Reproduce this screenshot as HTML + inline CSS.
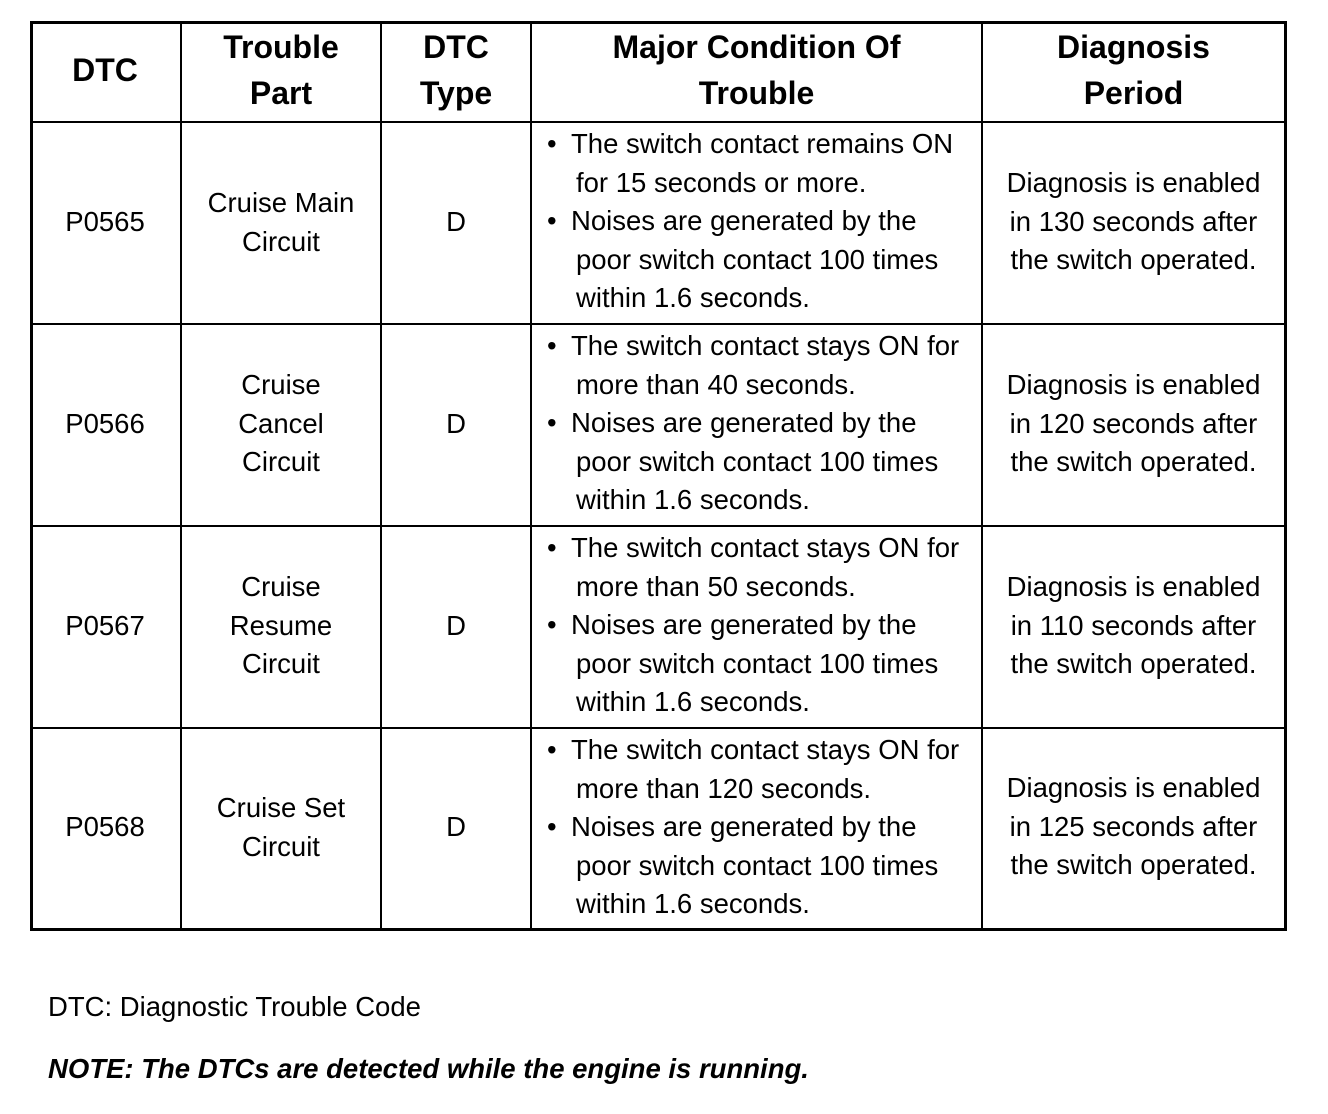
<!DOCTYPE html>
<html><head><meta charset="utf-8"><style>
body{margin:0;width:1328px;height:1114px;background:#fff;position:relative;font-family:"Liberation Sans",Arial,sans-serif;color:#000;overflow:hidden}
.l{position:absolute;background:#000}
.t{position:absolute;font-size:27.5px;line-height:38.6px;text-align:center;white-space:nowrap}
.h{position:absolute;font-size:32px;font-weight:bold;line-height:46px;text-align:center;white-space:nowrap}
.c{position:absolute;font-size:27.5px;line-height:38.6px;left:576px;width:420px;white-space:nowrap}
.c div{position:relative}
.c b{position:absolute;font-weight:normal;left:-24px}
.c .f{margin-left:-5px}
</style></head><body>
<div class="l" style="left:30px;top:21px;width:1257px;height:3px"></div>
<div class="l" style="left:30px;top:928px;width:1257px;height:3px"></div>
<div class="l" style="left:30px;top:21px;width:3px;height:910px"></div>
<div class="l" style="left:1284px;top:21px;width:3px;height:910px"></div>
<div class="l" style="left:180px;top:21px;width:2px;height:910px"></div>
<div class="l" style="left:380px;top:21px;width:2px;height:910px"></div>
<div class="l" style="left:530px;top:21px;width:2px;height:910px"></div>
<div class="l" style="left:981px;top:21px;width:2px;height:910px"></div>
<div class="l" style="left:30px;top:121px;width:1257px;height:2px"></div>
<div class="l" style="left:30px;top:323px;width:1257px;height:2px"></div>
<div class="l" style="left:30px;top:525px;width:1257px;height:2px"></div>
<div class="l" style="left:30px;top:727px;width:1257px;height:2px"></div>

<div class="h" style="left:30px;width:150px;top:47px">DTC</div>
<div class="h" style="left:182px;width:198px;top:24px">Trouble<br>Part</div>
<div class="h" style="left:382px;width:148px;top:24px">DTC<br>Type</div>
<div class="h" style="left:532px;width:449px;top:24px">Major Condition Of<br>Trouble</div>
<div class="h" style="left:983px;width:301px;top:24px">Diagnosis<br>Period</div>

<div class="t" style="left:30px;width:150px;top:203px">P0565</div>
<div class="t" style="left:182px;width:198px;top:184px">Cruise Main<br>Circuit</div>
<div class="t" style="left:382px;width:148px;top:203px">D</div>
<div class="t" style="left:983px;width:301px;top:164px">Diagnosis is enabled<br>in 130 seconds after<br>the switch operated.</div>

<div class="t" style="left:30px;width:150px;top:405px">P0566</div>
<div class="t" style="left:182px;width:198px;top:366px">Cruise<br>Cancel<br>Circuit</div>
<div class="t" style="left:382px;width:148px;top:405px">D</div>
<div class="t" style="left:983px;width:301px;top:366px">Diagnosis is enabled<br>in 120 seconds after<br>the switch operated.</div>

<div class="t" style="left:30px;width:150px;top:607px">P0567</div>
<div class="t" style="left:182px;width:198px;top:568px">Cruise<br>Resume<br>Circuit</div>
<div class="t" style="left:382px;width:148px;top:607px">D</div>
<div class="t" style="left:983px;width:301px;top:568px">Diagnosis is enabled<br>in 110 seconds after<br>the switch operated.</div>

<div class="t" style="left:30px;width:150px;top:808px">P0568</div>
<div class="t" style="left:182px;width:198px;top:789px">Cruise Set<br>Circuit</div>
<div class="t" style="left:382px;width:148px;top:808px">D</div>
<div class="t" style="left:983px;width:301px;top:769px">Diagnosis is enabled<br>in 125 seconds after<br>the switch operated.</div>

<div class="c" style="top:125px">
<div class="f"><b>•</b>The switch contact remains ON</div>
<div>for 15 seconds or more.</div>
<div class="f"><b>•</b>Noises are generated by the</div>
<div>poor switch contact 100 times</div>
<div>within 1.6 seconds.</div></div>
<div class="c" style="top:327px">
<div class="f"><b>•</b>The switch contact stays ON for</div>
<div>more than 40 seconds.</div>
<div class="f"><b>•</b>Noises are generated by the</div>
<div>poor switch contact 100 times</div>
<div>within 1.6 seconds.</div></div>
<div class="c" style="top:529px">
<div class="f"><b>•</b>The switch contact stays ON for</div>
<div>more than 50 seconds.</div>
<div class="f"><b>•</b>Noises are generated by the</div>
<div>poor switch contact 100 times</div>
<div>within 1.6 seconds.</div></div>
<div class="c" style="top:731px">
<div class="f"><b>•</b>The switch contact stays ON for</div>
<div>more than 120 seconds.</div>
<div class="f"><b>•</b>Noises are generated by the</div>
<div>poor switch contact 100 times</div>
<div>within 1.6 seconds.</div></div>

<div style="position:absolute;left:48px;top:991px;font-size:27.5px;white-space:nowrap">DTC: Diagnostic Trouble Code</div>
<div style="position:absolute;left:48px;top:1053px;font-size:27.5px;font-weight:bold;font-style:italic;white-space:nowrap">NOTE: The DTCs are detected while the engine is running.</div>
</body></html>
